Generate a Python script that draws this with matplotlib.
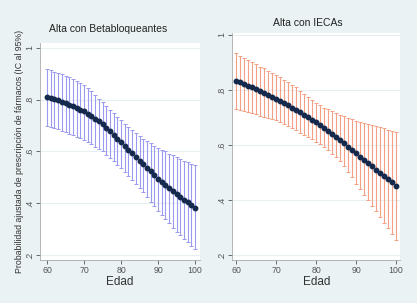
import numpy as np
from matplotlib import pyplot as plt

# edad (x axis)
edad = list(range(60, 101))

# Alta con Betabloqueantes: probabilidad y IC 95%
beta_media = [.812, .807, .802, .797, .792, .787, .781, .775, .768, .762, .755,
              .746, .737, .727, .716, .705, .692, .678, .664, .650, .635,
              .621, .607, .593, .579, .565, .551, .537, .523, .509, .495,
              .483, .471, .459, .447, .435, .425, .414, .404, .393, .383]
beta_sup = [.918, .913, .908, .903, .898, .893, .887, .880, .873, .866, .858,
            .846, .832, .818, .804, .790, .776, .762, .748, .734, .720,
            .707, .695, .683, .671, .660, .650, .641, .632, .623, .615,
            .607, .600, .592, .585, .578, .572, .565, .559, .553, .547]
beta_inf = [.700, .695, .690, .685, .680, .675, .669, .663, .657, .651, .645,
            .637, .628, .619, .610, .600, .588, .575, .562, .549, .535,
            .520, .505, .490, .475, .460, .442, .424, .406, .388, .370,
            .354, .338, .322, .306, .290, .276, .263, .249, .236, .222]

# Alta con IECAs
ieca_media = [.834, .828, .822, .816, .810, .803, .796, .789, .782, .775, .768,
              .760, .752, .744, .736, .728, .719, .710, .701, .692, .683,
              .673, .662, .652, .641, .630, .618, .606, .594, .582, .570,
              .558, .546, .534, .522, .510, .498, .487, .475, .464, .452]
ieca_sup = [.933, .925, .917, .909, .901, .893, .885, .878, .870, .863, .855,
            .846, .837, .828, .819, .810, .798, .786, .775, .763, .752,
            .744, .736, .729, .722, .715, .709, .704, .698, .693, .688,
            .684, .680, .676, .672, .668, .664, .660, .656, .652, .648]
ieca_inf = [.731, .727, .723, .719, .715, .711, .707, .703, .699, .695, .691,
            .684, .677, .669, .661, .653, .645, .638, .630, .621, .612,
            .603, .594, .582, .568, .555, .540, .522, .502, .482, .460,
            .440, .420, .400, .380, .360, .339, .318, .297, .277, .256]

yticks = [.2, .4, .6, .8, 1]
ytick_labels = ['.2', '.4', '.6', '.8', '1']
xticks = [60, 70, 80, 90, 100]

plt.rcParams['font.family'] = ['Liberation Sans', 'DejaVu Sans']
bg = '#eaf2f3'
W, H = 417, 303
fig = plt.figure(figsize=(W / 100, H / 100), dpi=100, facecolor=bg)


def panel(box, media, sup, inf, color, ylim, xlim):
    l, t, r, b = box
    ax = fig.add_axes([l / W, 1 - b / H, (r - l) / W, (b - t) / H])
    ax.set_facecolor('white')
    media = np.array(media)
    err = [media - np.array(inf), np.array(sup) - media]
    ax.errorbar(edad, media, yerr=err, fmt='none', ecolor=color,
                elinewidth=0.8, capsize=1.3, capthick=0.7, zorder=2)
    ax.plot(edad, media, 'o', ms=3.2, color='#14294c', zorder=3)
    ax.set_xlim(*xlim)
    ax.set_ylim(*ylim)
    ax.set_yticks(yticks)
    ax.set_yticklabels(ytick_labels, rotation=90, va='center')
    ax.set_xticks(xticks)
    ax.tick_params(labelsize=6.3, colors='#555555', length=3, width=0.6, pad=1.5)
    ax.tick_params(axis='y', pad=1)
    ax.grid(axis='y', color='#e8eff1', lw=0.8)
    ax.set_axisbelow(True)
    for s in ['top', 'right']:
        ax.spines[s].set_visible(False)
    for s in ['left', 'bottom']:
        ax.spines[s].set_color('#aaaaaa')
        ax.spines[s].set_linewidth(0.6)
    return ax


panel((40, 43, 200, 260), beta_media, beta_sup, beta_inf, '#9a9af0',
      (0.181, 1.019), (58.1, 101.35))
panel((232, 33, 400, 260), ieca_media, ieca_sup, ieca_inf, '#f4a083',
      (0.182, 1.007), (59.0, 101.0))

fig.text(108 / W, 1 - 29 / H, 'Alta con Betabloqueantes', ha='center',
         va='center', fontsize=7.5, color='#222222')
fig.text(308 / W, 1 - 23 / H, 'Alta con IECAs', ha='center',
         va='center', fontsize=7.5, color='#222222')
fig.text(20 / W, 1 - 151 / H,
         'Probabilidad ajustada de prescripción de fármacos (IC al 95%)',
         rotation=90, ha='center', va='center', fontsize=6.3, color='#333333')
fig.text(120 / W, 1 - 282 / H, 'Edad', ha='center', va='center',
         fontsize=8.5, color='#333333')
fig.text(317 / W, 1 - 282 / H, 'Edad', ha='center', va='center',
         fontsize=8.5, color='#333333')

fig.savefig('out.png', dpi=100, facecolor=bg)
